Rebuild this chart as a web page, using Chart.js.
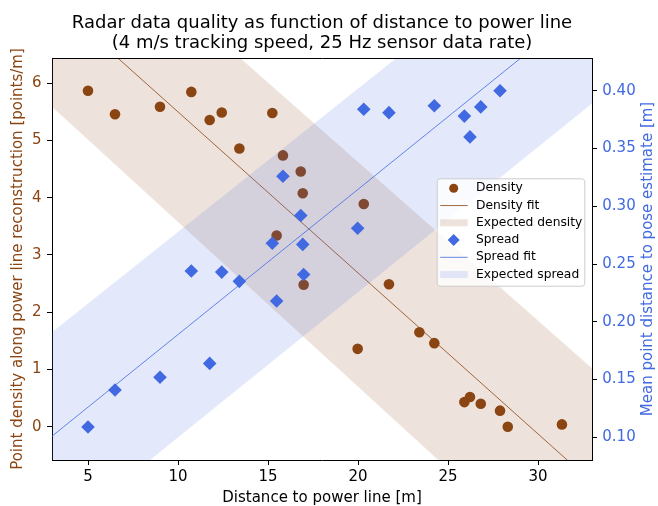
<!DOCTYPE html>
<html><head><meta charset="utf-8">
<script src="https://cdn.jsdelivr.net/npm/chart.js@4.4.1/dist/chart.umd.min.js"></script>
<style>html,body{margin:0;padding:0;background:#fff;}canvas{display:block;}</style>
</head><body>
<canvas id="c" width="658" height="506"></canvas>
<script>
// ---- data ----
const distance = [5.0, 6.5, 9.0, 10.74, 11.76, 12.43, 13.41, 15.24, 15.48, 15.83, 16.82, 16.93, 16.98, 19.98, 20.32, 21.72, 23.41, 24.24, 25.91, 26.22, 26.82, 27.89, 28.32, 31.33];
const density  = [5.87, 5.46, 5.59, 5.85, 5.36, 5.49, 4.86, 5.48, 3.34, 4.74, 4.46, 4.08, 2.48, 1.36, 3.89, 2.49, 1.65, 1.46, 0.43, 0.52, 0.40, 0.28, 0.00, 0.04];
const spread   = [0.109, 0.141, 0.152, 0.244, 0.164, 0.243, 0.235, 0.268, 0.218, 0.326, 0.292, 0.267, 0.241, 0.281, 0.384, 0.381, null, 0.387, 0.378, 0.360, 0.386, 0.400, null, null];
const fitRange = [3, 33];
const densityFit = [7.47, -0.97];
const spreadFit = [0.101, 0.478];
const densityBandUpper = [9.34, 1.02];
const densityBandLower = [5.59, -3.04];
const spreadBandUpper = [0.191, 0.563];
const spreadBandLower = [0.012, 0.389];
const xTicks = [5, 10, 15, 20, 25, 30];
const densityTicks = [0, 1, 2, 3, 4, 5, 6];
const spreadTicks = [0.10, 0.15, 0.20, 0.25, 0.30, 0.35, 0.40];
const titleLines = ['Radar data quality as function of distance to power line', '(4 m/s tracking speed, 25 Hz sensor data rate)'];
const xTitle = 'Distance to power line [m]';
const yTitle = 'Point density along power line reconstruction [points/m]';
const y2Title = 'Mean point distance to pose estimate [m]';

const brown = '#8B4513', blue = '#4169E1';
const brownBand = 'rgba(139,69,19,0.15)', blueBand = 'rgba(65,105,225,0.15)';
const FONT = '"DejaVu Sans", sans-serif';

const pts = (xs, ys) => xs.map((x, i) => ({x, y: ys[i]})).filter(p => p.y !== null);

const datasets = [
  {label: 'Expected density', type: 'line', yAxisID: 'y', data: pts(fitRange, densityBandUpper), fill: '+1',
   backgroundColor: brownBand, borderColor: 'rgba(0,0,0,0)', borderWidth: 1, pointRadius: 0, order: 7, legendKind: 'band'},
  {label: '_dl', type: 'line', yAxisID: 'y', data: pts(fitRange, densityBandLower), fill: false,
   borderColor: 'rgba(0,0,0,0)', borderWidth: 1, pointRadius: 0, order: 7},
  {label: 'Density fit', type: 'line', yAxisID: 'y', data: pts(fitRange, densityFit), fill: false,
   borderColor: brown, borderWidth: 0.8, pointRadius: 0, order: 6, legendKind: 'line'},
  {label: 'Density', type: 'scatter', yAxisID: 'y', data: pts(distance, density),
   backgroundColor: brown, borderWidth: 0, pointStyle: 'circle', pointRadius: 5.3, order: 5, legendKind: 'circle'},
  {label: 'Expected spread', type: 'line', yAxisID: 'y2', data: pts(fitRange, spreadBandUpper), fill: '+1',
   backgroundColor: blueBand, borderColor: 'rgba(0,0,0,0)', borderWidth: 1, pointRadius: 0, order: 4, legendKind: 'band'},
  {label: '_sl', type: 'line', yAxisID: 'y2', data: pts(fitRange, spreadBandLower), fill: false,
   borderColor: 'rgba(0,0,0,0)', borderWidth: 1, pointRadius: 0, order: 4},
  {label: 'Spread fit', type: 'line', yAxisID: 'y2', data: pts(fitRange, spreadFit), fill: false,
   borderColor: blue, borderWidth: 0.8, pointRadius: 0, order: 3, legendKind: 'line'},
  {label: 'Spread', type: 'scatter', yAxisID: 'y2', data: pts(distance, spread),
   backgroundColor: blue, borderWidth: 0, pointStyle: 'rectRot', pointRadius: 6.8, order: 2, legendKind: 'diamond'}
];
const legendOrder = ['Density', 'Density fit', 'Expected density', 'Spread', 'Spread fit', 'Expected spread'];

const axisCommon = {
  grid: {drawOnChartArea: false, drawTicks: true, tickLength: 5, color: '#000', lineWidth: 1},
  border: {display: true, color: '#000', width: 1}
};

const overlay = {
  id: 'overlay',
  afterDraw(chart) {
    const {ctx, chartArea: a} = chart;
    ctx.save();
    // top spine
    ctx.strokeStyle = '#000'; ctx.lineWidth = 1;
    ctx.beginPath(); ctx.moveTo(a.left, Math.round(a.top) + 0.5); ctx.lineTo(a.right + 1, Math.round(a.top) + 0.5); ctx.stroke();
    // right axis title (reads bottom to top)
    ctx.save();
    ctx.translate(648, (a.top + a.bottom) / 2); ctx.rotate(-Math.PI / 2);
    ctx.font = '15px ' + FONT; ctx.fillStyle = blue; ctx.textAlign = 'center'; ctx.textBaseline = 'middle';
    ctx.fillText(y2Title, 0, 0);
    ctx.restore();
    // legend
    const L = {x: a.right - 155.3, y: a.top + 120.3, w: 147.6, h: 107.4};
    ctx.beginPath();
    if (ctx.roundRect) ctx.roundRect(L.x + 0.5, L.y + 0.5, L.w, L.h, 3); else ctx.rect(L.x + 0.5, L.y + 0.5, L.w, L.h);
    ctx.fillStyle = 'rgba(255,255,255,0.8)'; ctx.fill();
    ctx.strokeStyle = '#cccccc'; ctx.lineWidth = 1; ctx.stroke();
    ctx.font = '12.3px ' + FONT; ctx.textBaseline = 'middle'; ctx.textAlign = 'left';
    legendOrder.forEach((lab, i) => {
      const ds = chart.data.datasets.find(d => d.label === lab);
      const cy = L.y + 10 + i * 17.25;
      const hx0 = L.x + 3.5, hx1 = L.x + 31, hc = L.x + 17;
      if (ds.legendKind === 'circle') {
        ctx.fillStyle = ds.backgroundColor; ctx.beginPath(); ctx.arc(hc, cy, 4.5, 0, Math.PI * 2); ctx.fill();
      } else if (ds.legendKind === 'diamond') {
        const r = 6; ctx.fillStyle = ds.backgroundColor; ctx.beginPath();
        ctx.moveTo(hc - r, cy); ctx.lineTo(hc, cy - r); ctx.lineTo(hc + r, cy); ctx.lineTo(hc, cy + r); ctx.closePath(); ctx.fill();
      } else if (ds.legendKind === 'line') {
        ctx.strokeStyle = ds.borderColor; ctx.lineWidth = 0.8; ctx.beginPath();
        ctx.moveTo(hx0, cy); ctx.lineTo(hx1, cy); ctx.stroke();
      } else {
        ctx.fillStyle = ds.backgroundColor; ctx.fillRect(hx0, cy - 3.5, hx1 - hx0, 7);
      }
      ctx.fillStyle = '#000'; ctx.fillText(lab, L.x + 39.3, cy);
    });
    ctx.restore();
  }
};

new Chart(document.getElementById('c'), {
  type: 'scatter',
  data: {datasets},
  options: {
    responsive: false, animation: false, events: [], devicePixelRatio: 1,
    layout: {padding: 0},
    plugins: {
      legend: {display: false}, tooltip: {enabled: false},
      title: {display: true, text: titleLines, color: '#000', fullSize: false,
        font: {family: FONT, size: 18, weight: 'normal', lineHeight: 20 / 18}, padding: {top: 13.8, bottom: 4.2}}
    },
    scales: {
      x: {type: 'linear', position: 'bottom', min: 3, max: 33, ...axisCommon,
        afterBuildTicks: s => { s.ticks = xTicks.map(v => ({value: v})); },
        afterFit: s => { s.height = 46; },
        ticks: {autoSkip: false, maxRotation: 0, color: '#000', padding: 3.5, font: {family: FONT, size: 15}},
        title: {display: true, text: xTitle, color: '#000', font: {family: FONT, size: 15, lineHeight: 1}, padding: 0}
      },
      y: {type: 'linear', position: 'left', min: -0.582, max: 6.442, ...axisCommon,
        afterBuildTicks: s => { s.ticks = densityTicks.map(v => ({value: v})); },
        afterFit: s => { s.width = 52; },
        ticks: {color: brown, padding: 5.5, font: {family: FONT, size: 15}, callback: v => String(v)},
        title: {display: true, text: yTitle, color: brown, font: {family: FONT, size: 15, lineHeight: 1}, padding: {top: 10.5, bottom: 0}}
      },
      y2: {type: 'linear', position: 'right', min: 0.0804, max: 0.4283, ...axisCommon,
        afterBuildTicks: s => { s.ticks = spreadTicks.map(v => ({value: v})); },
        afterFit: s => { s.width = 66; },
        ticks: {color: blue, padding: 5.3, font: {family: FONT, size: 15}, callback: v => v.toFixed(2)}
      }
    }
  },
  plugins: [overlay]
});
</script>
</body></html>
